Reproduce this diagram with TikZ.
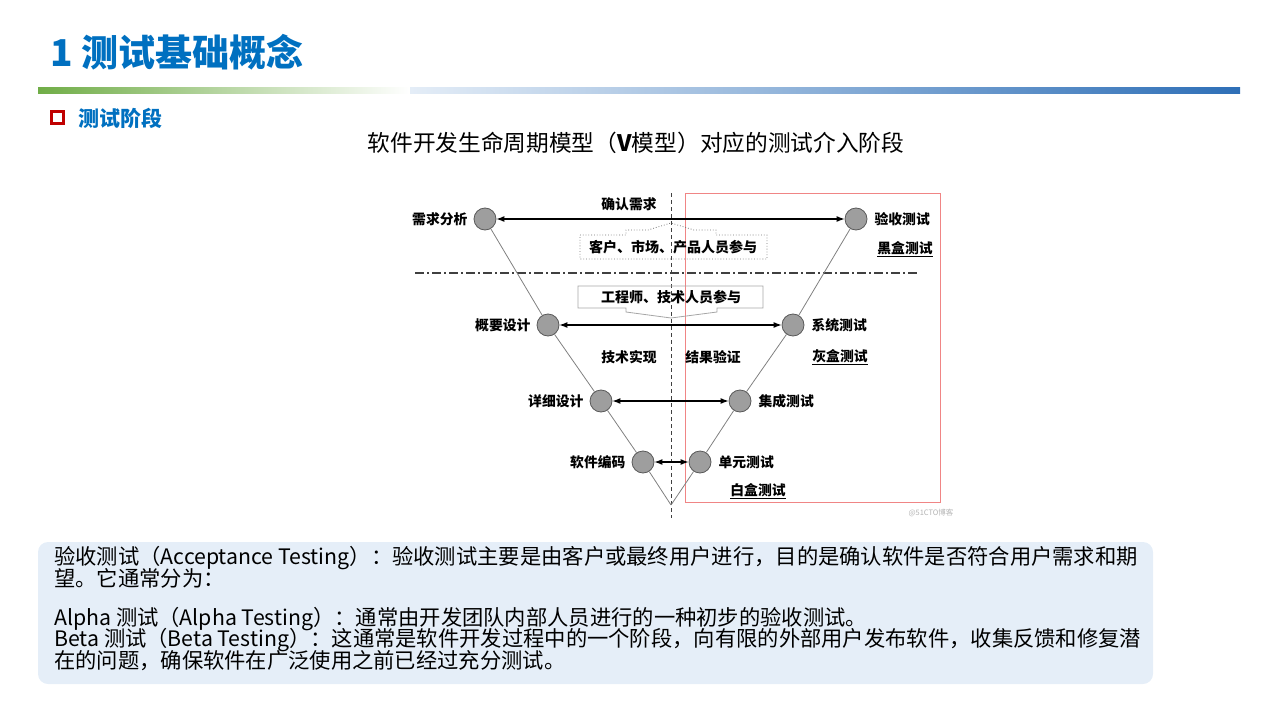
\documentclass[tikz,border=0pt]{standalone}
\usepackage{fontspec}
\setmainfont{Noto Sans CJK SC}
\usetikzlibrary{arrows.meta, positioning}

\definecolor{titleblue}{HTML}{0070C0}
\definecolor{bargreen}{HTML}{70AD47}
\definecolor{barblue}{HTML}{2E6FB7}
\definecolor{barpale}{HTML}{E4EDF7}
\definecolor{markred}{HTML}{C00000}
\definecolor{notefill}{HTML}{E5EEF8}
\definecolor{framered}{HTML}{F08585}

\begin{document}
\begin{tikzpicture}[
    x=1pt, y=-1pt,
    >={Latex[length=8pt,width=6pt]},
    stage/.style={circle, draw=black!65, fill=black!38, minimum size=22pt, inner sep=0pt, line width=0.8pt},
    lbl/.style={font=\fontsize{13.8}{15}\selectfont\bfseries, inner sep=0pt},
    vline/.style={draw=black!50, line width=0.8pt},
    link/.style={<->, line width=1.2pt},
    note/.style={anchor=west, font=\fontsize{21.3}{22}\selectfont, inner sep=0pt}
]
\useasboundingbox (0,0) rectangle (1280,720);

    % 标题与渐变条
    \node[anchor=west, inner sep=0pt, text=titleblue, font=\fontsize{37}{40}\selectfont\bfseries] (title) at (50,52) {1 测试基础概念};
    \shade[left color=bargreen, right color=white] (38,87) rectangle (410,93);
    \shade[left color=barpale, right color=barblue] (410,87) rectangle (1240,93);

    \node[draw=markred, line width=3pt, minimum size=12pt, inner sep=0pt] (mark) at (57.5,117.5) {};
    \node[anchor=west, inner sep=0pt, text=titleblue, font=\fontsize{21}{24}\selectfont\bfseries] (sec) at (78,118) {测试阶段};
    \node[font=\fontsize{22.7}{25}\selectfont] (sub) at (636,143) {软件开发生命周期模型（{\bfseries V}模型）对应的测试介入阶段};

    % 右侧红框
    \draw[framered, line width=1pt] (685,193) rectangle (940,502);

    % 分隔线
    \coordinate (mtop) at (671,193);
    \coordinate (mbot) at (671,518);
    \coordinate (sl) at (415,273);
    \coordinate (sr) at (918,273);
    \draw[black!75, line width=1pt, dash pattern=on 4pt off 3pt] (mtop) -- (mbot);
    \draw[black!75, line width=1.2pt, dash pattern=on 9pt off 3pt on 2pt off 3pt] (sl) -- (sr);

    % V 模型各阶段
    \node[stage] (xq) at (485,219) {};
    \node[stage] (gy) at (548,325) {};
    \node[stage] (xx) at (601,401) {};
    \node[stage] (bm) at (643,462) {};
    \coordinate (bot) at (671,505);
    \node[stage] (dy) at (700,462) {};
    \node[stage] (jc) at (740,401) {};
    \node[stage] (xt) at (793,325) {};
    \node[stage] (ys) at (856,219) {};

    \draw[vline] (xq) -- (gy);
    \draw[vline] (gy) -- (xx);
    \draw[vline] (xx) -- (bm);
    \draw[vline] (bm) -- (bot);
    \draw[vline] (bot) -- (dy);
    \draw[vline] (dy) -- (jc);
    \draw[vline] (jc) -- (xt);
    \draw[vline] (xt) -- (ys);

    \node[lbl, left=6pt of xq] (xqlbl) {需求分析};
    \node[lbl, left=6pt of gy] (gylbl) {概要设计};
    \node[lbl, left=6pt of xx] (xxlbl) {详细设计};
    \node[lbl, left=6pt of bm] (bmlbl) {软件编码};
    \node[lbl, right=7pt of dy] (dylbl) {单元测试};
    \node[lbl, right=7pt of jc] (jclbl) {集成测试};
    \node[lbl, right=7pt of xt] (xtlbl) {系统测试};
    \node[lbl, right=7pt of ys] (yslbl) {验收测试};

    % 对应关系
    \draw[link] (xq) -- (ys);
    \draw[link] (gy) -- (xt);
    \draw[link] (xx) -- (jc);
    \draw[link] (bm) -- (dy);

    \node[lbl] (qr) at (629,204) {确认需求};
    \node[lbl] (jssx) at (629,357) {技术实现};
    \node[lbl] (jgyz) at (713,357) {结果验证};
    \node[lbl] (hei) at (905,249) {\underline{黑盒测试}};
    \node[lbl] (hui) at (840,357) {\underline{灰盒测试}};
    \node[lbl] (bai) at (758,491) {\underline{白盒测试}};

    % 参与人员标注
    \draw[black!55, line width=0.8pt, dotted] (580,235) -- (626,235) -- (626,230) -- (648,230) -- (671,223) -- (694,230) -- (716,230) -- (716,235) -- (767,235) -- (767,259) -- (580,259) -- cycle;
    \node[lbl, font=\fontsize{14}{16}\selectfont\bfseries] (kh) at (673,247) {客户、市场、产品人员参与};
    \draw[black!35, line width=0.8pt] (578,286) -- (763,286) -- (763,308) -- (717,308) -- (717,312) -- (671,318) -- (626,312) -- (626,308) -- (578,308) -- cycle;
    \node[lbl, font=\fontsize{14}{16}\selectfont\bfseries] (gcs) at (671,297) {工程师、技术人员参与};

    \node[text=black!30, font=\fontsize{7.5}{8}\selectfont, inner sep=0pt] (wm) at (931,513) {@51CTO博客};

    % 说明文字
    \fill[notefill] (38,542) [rounded corners=10pt] rectangle (1153,684);
    \node[note] (t1) at (54,558) {验收测试（Acceptance Testing）：验收测试主要是由客户或最终用户进行，目的是确认软件是否符合用户需求和期};
    \node[note] (t2) at (54,578) {望。它通常分为：};
    \node[note] (t3) at (54,619) {Alpha 测试（Alpha Testing）：通常由开发团队内部人员进行的一种初步的验收测试。};
    \node[note] (t4) at (54,640) {Beta 测试（Beta Testing）：这通常是软件开发过程中的一个阶段，向有限的外部用户发布软件，收集反馈和修复潜};
    \node[note] (t5) at (54,661) {在的问题，确保软件在广泛使用之前已经过充分测试。};

\end{tikzpicture}
\end{document}
